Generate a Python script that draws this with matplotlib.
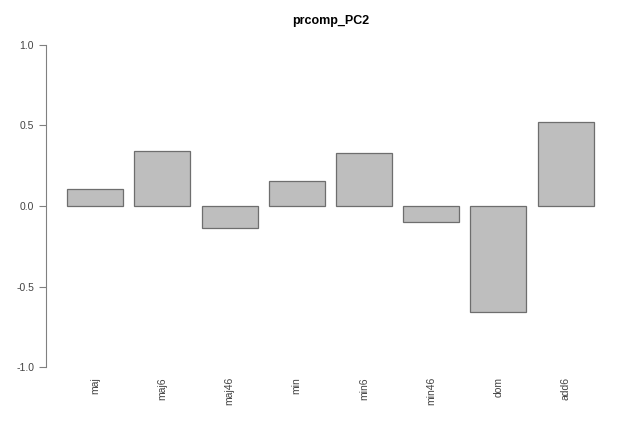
import numpy as np
import matplotlib.pyplot as plt

plt.rcParams['font.family'] = ['Liberation Sans', 'DejaVu Sans']
plt.rcParams['axes.unicode_minus'] = False

# valeurs
categories = ['maj', 'maj6', 'maj46', 'min', 'min6', 'min46', 'dom', 'add6']
pc2 = [0.104, 0.344, -0.139, 0.157, 0.327, -0.101, -0.66, 0.522]
yticks = [-1.0, -0.5, 0.0, 0.5, 1.0]

# positions à la R : largeur 1, espace 0.2
x = 0.2 + np.arange(len(categories)) * 1.2 + 0.5

fig = plt.figure(figsize=(6.39, 4.24), dpi=100)
ax = fig.add_axes([0.072, 0.1038, 0.890, 0.8208])

ax.bar(x, pc2, width=1.0, color='#bebebe', edgecolor='#6e6e6e', linewidth=0.9)

ax.set_xlim(-0.176, 9.976)
ax.set_ylim(-1.08, 1.08)

for s in ['top', 'right', 'bottom']:
    ax.spines[s].set_visible(False)
ax.spines['left'].set_bounds(-1, 1)
ax.spines['left'].set_color('#808080')

ax.set_yticks(yticks)
ax.set_yticklabels([f'{v:.1f}' for v in yticks])
ax.tick_params(axis='y', colors='#808080', labelcolor='#444444', labelsize=7.5, length=5, width=0.8)

ax.set_xticks(x)
ax.set_xticklabels(categories, rotation=90, fontsize=7.5, color='#444444')
ax.tick_params(axis='x', length=0, pad=-2)

ax.set_title('prcomp_PC2', fontsize=9, fontweight='bold', pad=6)

fig.savefig('out.png', dpi=100)
